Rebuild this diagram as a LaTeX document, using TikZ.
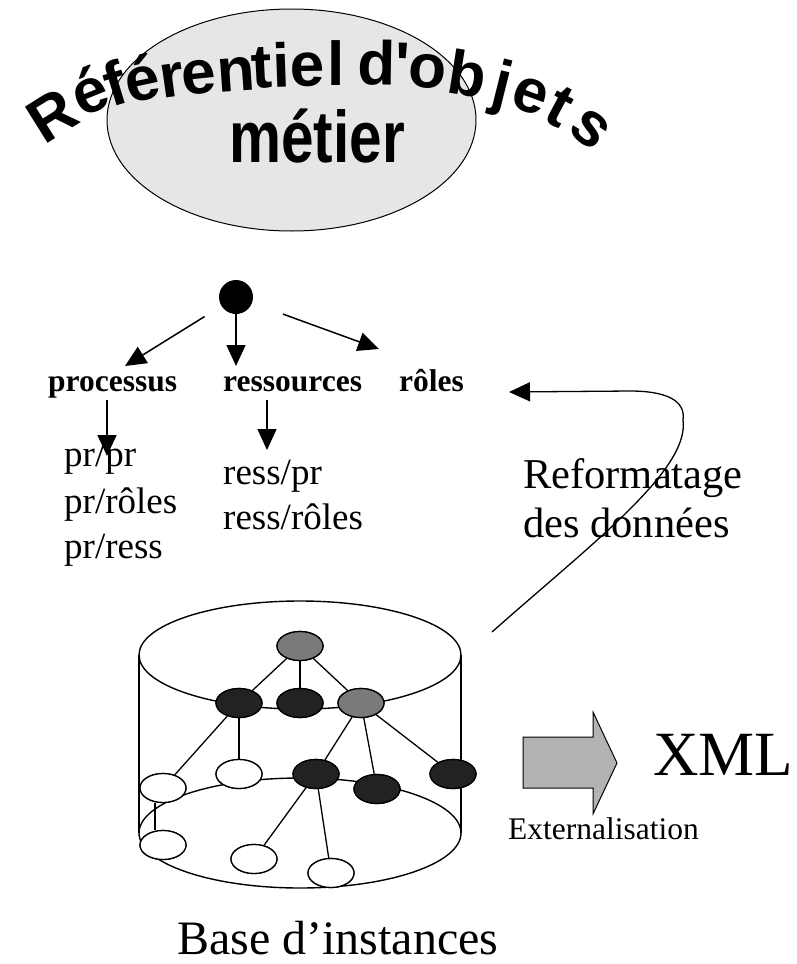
\documentclass[tikz,border=0pt]{standalone}
\usepackage{fontspec}
\setmainfont{Liberation Serif}
\newfontfamily\wordart{Liberation Sans}
\usetikzlibrary{arrows.meta,shapes.geometric}

\definecolor{refgray}{HTML}{E6E6E6}
\definecolor{nodedark}{HTML}{222222}
\definecolor{nodegray}{HTML}{7A7A7A}
\definecolor{blockgray}{HTML}{B3B3B3}

% one letter of the arched title: name, x, y (baseline centre), rotation, glyph
\newcommand\archletter[5]{%
  \node[titlech, rotate=#4] (#1) at (#2,#3) {#5};}

\begin{document}
\begin{tikzpicture}[x=1pt,y=-1pt,
  arr/.style={-{Triangle[length=21pt,width=19pt]}, line width=1.5pt},
  titlech/.style={font=\wordart\bfseries\fontsize{62}{62}\selectfont, inner sep=0pt, anchor=base},
  lbl/.style={inner sep=0pt, anchor=base west},
  cyl/.style={line width=1.4pt},
  inst/.style={ellipse, draw, line width=1.3pt, minimum width=46pt, minimum height=29pt, inner sep=0pt},
  dark/.style={inst, fill=nodedark},
  mid/.style={inst, fill=nodegray},
  light/.style={inst, fill=white},
  edge/.style={line width=1.3pt}
]
\useasboundingbox (0,0) rectangle (796,964);

% --- referentiel ellipse and arched title
\draw[fill=refgray, line width=1pt] (291.5,120) ellipse [x radius=184.5pt, y radius=111pt];
\archletter{tl1}{63}{134}{32}{R}
\archletter{tl2}{97}{111}{22}{é}
\archletter{tl3}{121}{104}{17}{f}
\archletter{tl4}{146}{100}{12}{é}
\archletter{tl5}{174}{97}{8}{r}
\archletter{tl6}{201}{94}{6}{e}
\archletter{tl7}{237}{91}{4}{n}
\archletter{tl8}{263}{88}{3}{t}
\archletter{tl9}{282}{87}{2}{i}
\archletter{tl10}{308}{86}{1}{e}
\archletter{tl11}{336}{85}{0}{l}
\archletter{tl12}{376}{85}{-1}{d}
\archletter{tl13}{402}{86}{-2}{'}
\archletter{tl14}{426}{88}{-4}{o}
\archletter{tl15}{464}{95}{-9}{b}
\archletter{tl16}{498}{104}{-14}{j}
\archletter{tl17}{525}{111}{-20}{e}
\archletter{tl18}{551}{124}{-28}{t}
\archletter{tl19}{580}{142}{-40}{s}
\node[titlech, font=\wordart\bfseries\fontsize{58.5}{58.5}\selectfont] (metier) at (317,162)
  {\scalebox{1}[1.25]{métier}};

% --- object tree
\node[circle, fill=black, minimum size=34pt, inner sep=0pt] (root) at (236,297) {};
\node[lbl, font=\bfseries\fontsize{31.5}{31.5}\selectfont] (proc) at (48,391) {processus};
\node[lbl, font=\bfseries\fontsize{31.5}{31.5}\selectfont] (ress) at (223,391) {ressources};
\node[lbl, font=\bfseries\fontsize{31.5}{31.5}\selectfont] (roles) at (399,391) {rôles};

\coordinate (procIn) at (125,366);
\coordinate (ressIn) at (236,366);
\coordinate (rolesIn) at (379,349);
\draw[arr, shorten <=37pt] (root.center) -- (procIn);
\draw[arr] (root.south) -- (ressIn);
\draw[arr, shorten <=50pt] (root.center) -- (rolesIn);

\begin{scope}[every node/.style={lbl, font=\fontsize{37}{37}\selectfont}]
  \node (prpr) at (64,466) {pr/pr};
  \node (prroles) at (64,513) {pr/rôles};
  \node (prress) at (64,558) {pr/ress};
  \node (resspr) at (223,484) {ress/pr};
  \node (ressroles) at (223,529) {ress/rôles};
\end{scope}

\coordinate (procOut) at (107,400);
\coordinate (prIn) at (107,456);
\coordinate (ressOut) at (267,400);
\coordinate (rsIn) at (267,450);
\draw[arr] (procOut) -- (prIn);
\draw[arr] (ressOut) -- (rsIn);

% --- reformatting loop back to the tree
\node[lbl, font=\fontsize{42.5}{42.5}\selectfont] (reform) at (523,488) {Reformatage};
\node[lbl, font=\fontsize{42.5}{42.5}\selectfont] (donnees) at (523,537) {des données};
\coordinate (refStart) at (492,632);
\coordinate (refEnd) at (509,392);
\draw[arr, line width=1.3pt] (refStart) .. controls (590,545) and (690,470) .. (683,420)
  .. controls (686,400) and (665,391) .. (630,391) -- (refEnd);

% --- instance base cylinder
\draw[cyl] (300,655) ellipse [x radius=161pt, y radius=54pt];
\draw[cyl] (300,833) ellipse [x radius=161pt, y radius=55pt];
\draw[cyl] (139,655) -- (139,833);
\draw[cyl] (461,655) -- (461,833);

\node[mid]   (g1) at (300,646) {};
\node[dark]  (d1) at (239,703) {};
\node[dark]  (d2) at (300,703) {};
\node[mid]   (g2) at (361,703) {};
\node[light] (w1) at (239,774) {};
\node[dark]  (d3) at (316,774) {};
\node[dark]  (d4) at (377,789) {};
\node[dark]  (d5) at (453,774) {};
\node[light] (w2) at (163,788) {};
\node[light] (w3) at (163,845) {};
\node[light] (w4) at (254,859) {};
\node[light] (w5) at (331,873) {};

\foreach \a/\b in {g1/d1, g1/d2, g1/g2, d1/w2, d1/w1, g2/d3, g2/d4, g2/d5, d3/w4, d3/w5}
  \draw[edge] (\a) -- (\b);
\draw[edge] (w2.south -| 155,0) -- (w3.north -| 155,0);
% redraw the nodes over their edges
\foreach \n/\s in {g1/mid, d1/dark, d2/dark, g2/mid, w1/light, d3/dark, d4/dark, d5/dark, w2/light, w3/light, w4/light, w5/light}
  \node[\s] at (\n) {};

\node[lbl, font=\fontsize{48}{48}\selectfont] (base) at (177,954) {Base d’instances};

% --- externalisation to XML
\draw[fill=blockgray, line width=1pt] (523,737) -- (593,737) -- (593,712) -- (617,763)
  -- (593,814) -- (593,788) -- (523,788) -- cycle;
\node[lbl, font=\fontsize{31.5}{31.5}\selectfont] (ext) at (508,839) {Externalisation};
\node[lbl, font=\fontsize{63}{63}\selectfont] (xml) at (653,775) {XML};
\end{tikzpicture}
\end{document}
